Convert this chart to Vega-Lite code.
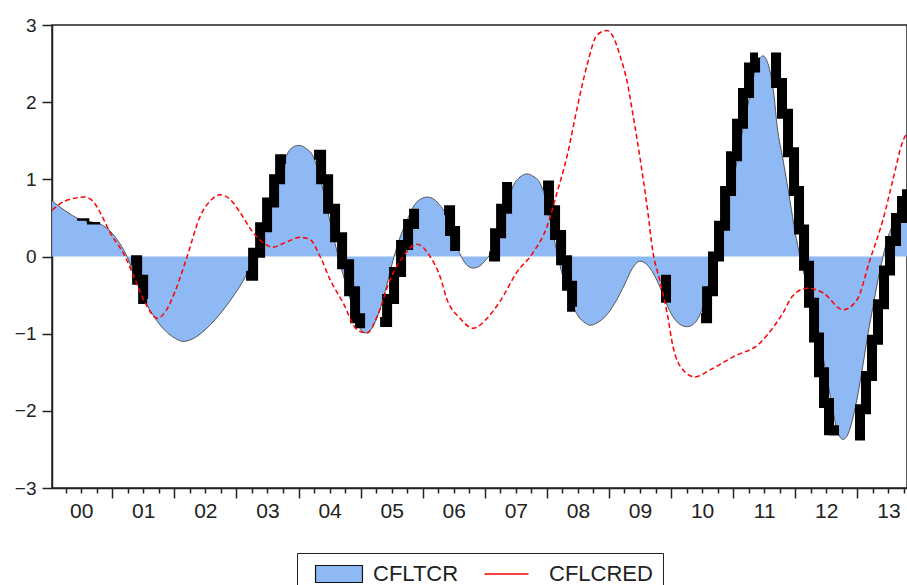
{
  "$schema": "https://vega.github.io/schema/vega-lite/v6.json",
  "width": 855,
  "height": 463,
  "autosize": {"type": "none"},
  "padding": {"left": 52, "top": 25, "right": 0, "bottom": 97},
  "background": "white",
  "config": {
    "font": "Liberation Sans",
    "view": {"stroke": "#222", "strokeWidth": 1.5}
  },
  "datasets": {
    "cfltcr": [
      {"t": 2000.032, "v": 0.72}, {"t": 2000.161, "v": 0.64}, {"t": 2000.322, "v": 0.55}, {"t": 2000.483, "v": 0.48},
      {"t": 2000.644, "v": 0.45}, {"t": 2000.805, "v": 0.42}, {"t": 2000.966, "v": 0.33}, {"t": 2001.095, "v": 0.2},
      {"t": 2001.208, "v": 0.05}, {"t": 2001.288, "v": -0.1}, {"t": 2001.401, "v": -0.35}, {"t": 2001.53, "v": -0.58},
      {"t": 2001.691, "v": -0.8}, {"t": 2001.852, "v": -0.96}, {"t": 2002.013, "v": -1.06}, {"t": 2002.142, "v": -1.1},
      {"t": 2002.335, "v": -1.05}, {"t": 2002.496, "v": -0.95}, {"t": 2002.657, "v": -0.82}, {"t": 2002.818, "v": -0.66},
      {"t": 2002.979, "v": -0.48}, {"t": 2003.14, "v": -0.27}, {"t": 2003.253, "v": -0.08}, {"t": 2003.349, "v": 0.12},
      {"t": 2003.462, "v": 0.42}, {"t": 2003.575, "v": 0.75}, {"t": 2003.688, "v": 1.05}, {"t": 2003.8, "v": 1.3},
      {"t": 2003.913, "v": 1.42}, {"t": 2004.01, "v": 1.44}, {"t": 2004.122, "v": 1.4}, {"t": 2004.235, "v": 1.3},
      {"t": 2004.348, "v": 1.02}, {"t": 2004.461, "v": 0.62}, {"t": 2004.573, "v": 0.22}, {"t": 2004.686, "v": -0.14},
      {"t": 2004.799, "v": -0.46}, {"t": 2004.911, "v": -0.76}, {"t": 2004.992, "v": -0.93}, {"t": 2005.072, "v": -0.99},
      {"t": 2005.153, "v": -0.96}, {"t": 2005.25, "v": -0.82}, {"t": 2005.346, "v": -0.6}, {"t": 2005.443, "v": -0.3},
      {"t": 2005.539, "v": 0.0}, {"t": 2005.636, "v": 0.25}, {"t": 2005.749, "v": 0.47}, {"t": 2005.861, "v": 0.66},
      {"t": 2005.958, "v": 0.74}, {"t": 2006.071, "v": 0.77}, {"t": 2006.184, "v": 0.74}, {"t": 2006.28, "v": 0.66},
      {"t": 2006.361, "v": 0.57}, {"t": 2006.441, "v": 0.42}, {"t": 2006.522, "v": 0.2}, {"t": 2006.602, "v": 0.03},
      {"t": 2006.699, "v": -0.1}, {"t": 2006.812, "v": -0.15}, {"t": 2006.924, "v": -0.12}, {"t": 2007.021, "v": -0.04},
      {"t": 2007.085, "v": 0.03}, {"t": 2007.166, "v": 0.22}, {"t": 2007.246, "v": 0.42}, {"t": 2007.327, "v": 0.62},
      {"t": 2007.407, "v": 0.82}, {"t": 2007.488, "v": 0.96}, {"t": 2007.568, "v": 1.03}, {"t": 2007.681, "v": 1.07},
      {"t": 2007.778, "v": 1.04}, {"t": 2007.89, "v": 0.95}, {"t": 2007.971, "v": 0.77}, {"t": 2008.052, "v": 0.48},
      {"t": 2008.132, "v": 0.17}, {"t": 2008.213, "v": -0.12}, {"t": 2008.309, "v": -0.4}, {"t": 2008.406, "v": -0.62},
      {"t": 2008.502, "v": -0.77}, {"t": 2008.615, "v": -0.86}, {"t": 2008.696, "v": -0.89}, {"t": 2008.808, "v": -0.86},
      {"t": 2008.937, "v": -0.78}, {"t": 2009.098, "v": -0.6}, {"t": 2009.259, "v": -0.35}, {"t": 2009.372, "v": -0.16},
      {"t": 2009.501, "v": -0.06}, {"t": 2009.63, "v": -0.12}, {"t": 2009.742, "v": -0.26}, {"t": 2009.855, "v": -0.46},
      {"t": 2009.952, "v": -0.66}, {"t": 2010.048, "v": -0.8}, {"t": 2010.145, "v": -0.88}, {"t": 2010.258, "v": -0.91},
      {"t": 2010.37, "v": -0.87}, {"t": 2010.467, "v": -0.75}, {"t": 2010.564, "v": -0.5}, {"t": 2010.66, "v": -0.15},
      {"t": 2010.757, "v": 0.2}, {"t": 2010.853, "v": 0.5}, {"t": 2010.95, "v": 0.82}, {"t": 2011.047, "v": 1.17},
      {"t": 2011.127, "v": 1.53}, {"t": 2011.24, "v": 1.97}, {"t": 2011.32, "v": 2.3}, {"t": 2011.385, "v": 2.5},
      {"t": 2011.481, "v": 2.6}, {"t": 2011.578, "v": 2.45}, {"t": 2011.659, "v": 2.08}, {"t": 2011.707, "v": 1.7},
      {"t": 2011.804, "v": 1.25}, {"t": 2011.916, "v": 0.72}, {"t": 2011.997, "v": 0.32}, {"t": 2012.077, "v": 0.0},
      {"t": 2012.174, "v": -0.33}, {"t": 2012.271, "v": -0.65}, {"t": 2012.367, "v": -0.98}, {"t": 2012.448, "v": -1.3},
      {"t": 2012.528, "v": -1.65}, {"t": 2012.609, "v": -2.0}, {"t": 2012.673, "v": -2.25}, {"t": 2012.77, "v": -2.37},
      {"t": 2012.866, "v": -2.27}, {"t": 2012.931, "v": -2.08}, {"t": 2013.011, "v": -1.78}, {"t": 2013.092, "v": -1.4},
      {"t": 2013.172, "v": -1.0}, {"t": 2013.253, "v": -0.65}, {"t": 2013.333, "v": -0.3}, {"t": 2013.414, "v": 0.0},
      {"t": 2013.494, "v": 0.25}, {"t": 2013.591, "v": 0.45}, {"t": 2013.688, "v": 0.6}, {"t": 2013.8, "v": 0.75}
    ],
    "cflcred": [
      {"t": 2000.032, "v": 0.6}, {"t": 2000.242, "v": 0.72}, {"t": 2000.564, "v": 0.77}, {"t": 2000.725, "v": 0.68},
      {"t": 2000.805, "v": 0.57}, {"t": 2000.966, "v": 0.31}, {"t": 2001.208, "v": 0.0}, {"t": 2001.369, "v": -0.3},
      {"t": 2001.53, "v": -0.6}, {"t": 2001.723, "v": -0.8}, {"t": 2001.852, "v": -0.72}, {"t": 2002.013, "v": -0.45},
      {"t": 2002.206, "v": 0.0}, {"t": 2002.416, "v": 0.52}, {"t": 2002.577, "v": 0.72}, {"t": 2002.738, "v": 0.8},
      {"t": 2002.899, "v": 0.74}, {"t": 2003.06, "v": 0.57}, {"t": 2003.269, "v": 0.31}, {"t": 2003.43, "v": 0.18},
      {"t": 2003.575, "v": 0.12}, {"t": 2003.784, "v": 0.18}, {"t": 2004.026, "v": 0.25}, {"t": 2004.187, "v": 0.22},
      {"t": 2004.348, "v": 0.0}, {"t": 2004.509, "v": -0.3}, {"t": 2004.718, "v": -0.6}, {"t": 2004.944, "v": -0.95},
      {"t": 2005.105, "v": -0.99}, {"t": 2005.266, "v": -0.78}, {"t": 2005.475, "v": -0.3}, {"t": 2005.684, "v": 0.0},
      {"t": 2005.91, "v": 0.16}, {"t": 2006.119, "v": 0.0}, {"t": 2006.28, "v": -0.26}, {"t": 2006.393, "v": -0.56},
      {"t": 2006.602, "v": -0.8}, {"t": 2006.812, "v": -0.93}, {"t": 2007.037, "v": -0.8}, {"t": 2007.246, "v": -0.58},
      {"t": 2007.52, "v": -0.2}, {"t": 2007.778, "v": 0.05}, {"t": 2008.003, "v": 0.39}, {"t": 2008.164, "v": 0.83},
      {"t": 2008.325, "v": 1.3}, {"t": 2008.486, "v": 1.92}, {"t": 2008.647, "v": 2.48}, {"t": 2008.808, "v": 2.87},
      {"t": 2008.969, "v": 2.93}, {"t": 2009.066, "v": 2.85}, {"t": 2009.179, "v": 2.6}, {"t": 2009.291, "v": 2.27},
      {"t": 2009.388, "v": 1.83}, {"t": 2009.501, "v": 1.27}, {"t": 2009.614, "v": 0.65}, {"t": 2009.71, "v": 0.05},
      {"t": 2009.823, "v": -0.32}, {"t": 2009.936, "v": -0.73}, {"t": 2010.032, "v": -1.17}, {"t": 2010.193, "v": -1.47},
      {"t": 2010.386, "v": -1.56}, {"t": 2010.628, "v": -1.47}, {"t": 2010.998, "v": -1.3}, {"t": 2011.433, "v": -1.12},
      {"t": 2011.643, "v": -0.92}, {"t": 2011.804, "v": -0.73}, {"t": 2011.949, "v": -0.52}, {"t": 2012.19, "v": -0.41},
      {"t": 2012.448, "v": -0.47}, {"t": 2012.77, "v": -0.69}, {"t": 2012.995, "v": -0.56}, {"t": 2013.205, "v": -0.04},
      {"t": 2013.414, "v": 0.48}, {"t": 2013.575, "v": 1.0}, {"t": 2013.736, "v": 1.5}, {"t": 2013.8, "v": 1.6}
    ],
    "stairs": [
      {"seg": "A", "t": 2000.435, "v": 0.48}, {"seg": "A", "t": 2000.612, "v": 0.43}, {"seg": "A", "t": 2000.805, "v": 0.43},
      {"seg": "B", "t": 2001.304, "v": -0.05}, {"seg": "B", "t": 2001.401, "v": -0.3}, {"seg": "B", "t": 2001.498, "v": -0.55}, {"seg": "B", "t": 2001.562, "v": -0.55},
      {"seg": "C", "t": 2003.156, "v": -0.25}, {"seg": "C", "t": 2003.269, "v": 0.05}, {"seg": "C", "t": 2003.382, "v": 0.38}, {"seg": "C", "t": 2003.494, "v": 0.7}, {"seg": "C", "t": 2003.607, "v": 1.0}, {"seg": "C", "t": 2003.704, "v": 1.26}, {"seg": "C", "t": 2003.8, "v": 1.26},
      {"seg": "D", "t": 2004.251, "v": 1.32}, {"seg": "D", "t": 2004.364, "v": 1.0}, {"seg": "D", "t": 2004.477, "v": 0.62}, {"seg": "D", "t": 2004.589, "v": 0.25}, {"seg": "D", "t": 2004.702, "v": -0.1}, {"seg": "D", "t": 2004.815, "v": -0.45}, {"seg": "D", "t": 2004.911, "v": -0.8}, {"seg": "D", "t": 2004.992, "v": -0.93},
      {"seg": "E", "t": 2005.314, "v": -0.85}, {"seg": "E", "t": 2005.427, "v": -0.55}, {"seg": "E", "t": 2005.539, "v": -0.2}, {"seg": "E", "t": 2005.652, "v": 0.15}, {"seg": "E", "t": 2005.765, "v": 0.42}, {"seg": "E", "t": 2005.861, "v": 0.62},
      {"seg": "F", "t": 2006.345, "v": 0.6}, {"seg": "F", "t": 2006.441, "v": 0.33}, {"seg": "F", "t": 2006.522, "v": 0.07},
      {"seg": "G", "t": 2007.069, "v": 0.0}, {"seg": "G", "t": 2007.166, "v": 0.3}, {"seg": "G", "t": 2007.263, "v": 0.62}, {"seg": "G", "t": 2007.359, "v": 0.9}, {"seg": "G", "t": 2007.44, "v": 0.9},
      {"seg": "H", "t": 2007.939, "v": 0.92}, {"seg": "H", "t": 2008.035, "v": 0.6}, {"seg": "H", "t": 2008.132, "v": 0.28}, {"seg": "H", "t": 2008.229, "v": -0.05}, {"seg": "H", "t": 2008.325, "v": -0.38}, {"seg": "H", "t": 2008.406, "v": -0.65}, {"seg": "H", "t": 2008.454, "v": -0.65},
      {"seg": "I", "t": 2009.839, "v": -0.3}, {"seg": "I", "t": 2009.919, "v": -0.6},
      {"seg": "J", "t": 2010.483, "v": -0.8}, {"seg": "J", "t": 2010.58, "v": -0.45}, {"seg": "J", "t": 2010.676, "v": 0.0}, {"seg": "J", "t": 2010.773, "v": 0.4}, {"seg": "J", "t": 2010.87, "v": 0.85}, {"seg": "J", "t": 2010.966, "v": 1.3}, {"seg": "J", "t": 2011.063, "v": 1.72}, {"seg": "J", "t": 2011.159, "v": 2.12}, {"seg": "J", "t": 2011.256, "v": 2.45}, {"seg": "J", "t": 2011.353, "v": 2.58}, {"seg": "J", "t": 2011.401, "v": 2.58},
      {"seg": "K", "t": 2011.61, "v": 2.58}, {"seg": "K", "t": 2011.691, "v": 2.25}, {"seg": "K", "t": 2011.787, "v": 1.85}, {"seg": "K", "t": 2011.884, "v": 1.35}, {"seg": "K", "t": 2011.981, "v": 0.85}, {"seg": "K", "t": 2012.061, "v": 0.35}, {"seg": "K", "t": 2012.142, "v": -0.12}, {"seg": "K", "t": 2012.222, "v": -0.6}, {"seg": "K", "t": 2012.303, "v": -1.05}, {"seg": "K", "t": 2012.383, "v": -1.5}, {"seg": "K", "t": 2012.464, "v": -1.9}, {"seg": "K", "t": 2012.544, "v": -2.25}, {"seg": "K", "t": 2012.625, "v": -2.32},
      {"seg": "L", "t": 2012.963, "v": -2.32}, {"seg": "L", "t": 2013.043, "v": -1.98}, {"seg": "L", "t": 2013.14, "v": -1.55}, {"seg": "L", "t": 2013.237, "v": -1.08}, {"seg": "L", "t": 2013.333, "v": -0.62}, {"seg": "L", "t": 2013.43, "v": -0.18}, {"seg": "L", "t": 2013.527, "v": 0.2}, {"seg": "L", "t": 2013.623, "v": 0.5}, {"seg": "L", "t": 2013.72, "v": 0.72}, {"seg": "L", "t": 2013.8, "v": 0.87}
    ]
  },
  "encoding": {
    "x": {
      "field": "t", "type": "quantitative",
      "scale": {"domain": [2000.03, 2013.8], "nice": false, "zero": false},
      "axis": {
        "title": null, "grid": false,
        "values": [2000.25, 2000.5, 2000.75, 2001, 2001.25, 2001.5, 2001.75, 2002, 2002.25, 2002.5, 2002.75, 2003, 2003.25, 2003.5, 2003.75, 2004, 2004.25, 2004.5, 2004.75, 2005, 2005.25, 2005.5, 2005.75, 2006, 2006.25, 2006.5, 2006.75, 2007, 2007.25, 2007.5, 2007.75, 2008, 2008.25, 2008.5, 2008.75, 2009, 2009.25, 2009.5, 2009.75, 2010, 2010.25, 2010.5, 2010.75, 2011, 2011.25, 2011.5, 2011.75, 2012, 2012.25, 2012.5, 2012.75, 2013, 2013.25, 2013.5, 2013.75],
        "labelExpr": "datum.value % 1 == 0.5 ? slice('0' + floor(datum.value - 2000), -2) : ''",
        "labelOverlap": false, "labelFlush": false, "labelBound": false,
        "labelFontSize": 21, "labelColor": "#222", "labelPadding": 7,
        "tickSize": {"condition": {"test": "datum.value % 1 === 0", "value": 10}, "value": 5},
        "tickColor": "#222", "tickWidth": 1.5,
        "domainColor": "#222", "domainWidth": 1.5
      }
    }
  },
  "layer": [
    {
      "data": {"name": "cfltcr"},
      "mark": {"type": "area", "interpolate": "monotone", "clip": true, "opacity": 1},
      "encoding": {
        "y": {
          "field": "v", "type": "quantitative",
          "scale": {"domain": [-3, 3], "nice": false},
          "axis": {
            "title": null, "grid": false, "values": [-3, -2, -1, 0, 1, 2, 3], "format": "d",
            "labelFontSize": 19, "labelColor": "#222", "labelPadding": 6,
            "tickSize": 10, "tickColor": "#222", "tickWidth": 1.5,
            "domainColor": "#222", "domainWidth": 1.5
          }
        },
        "color": {
          "datum": "CFLTCR",
          "scale": {"domain": ["CFLTCR", "CFLCRED"], "range": ["#8FB9F5", "#FF0000"]},
          "legend": {
            "orient": "none", "legendX": 245, "legendY": 528, "direction": "horizontal",
            "title": null, "strokeColor": "#222", "padding": 10,
            "symbolSize": 289, "symbolOffset": 21, "labelOffset": 23, "columnPadding": 22,
            "labelFontSize": 22, "labelColor": "#222",
            "symbolType": {"expr": "datum.value === 'CFLTCR' ? 'M-2.76,-1H2.76V1H-2.76Z' : 'M-3.59,0H1.59'"},
            "symbolStrokeColor": {"expr": "datum.value === 'CFLTCR' ? '#111' : '#FF0000'"},
            "symbolStrokeWidth": {"expr": "datum.value === 'CFLTCR' ? 1.2 : 1.5"},
            "symbolDash": [1, 0],
            "symbolOpacity": 1
          }
        }
      }
    },
    {
      "data": {"name": "cfltcr"},
      "mark": {"type": "line", "interpolate": "monotone", "color": "#555", "strokeWidth": 1, "clip": true},
      "encoding": {"y": {"field": "v", "type": "quantitative"}}
    },
    {
      "data": {"name": "stairs"},
      "transform": [{"filter": "datum.seg !== 'A'"}],
      "mark": {"type": "line", "interpolate": "step-after", "color": "#000", "strokeWidth": 10, "strokeJoin": "miter", "clip": true},
      "encoding": {"y": {"field": "v", "type": "quantitative"}, "detail": {"field": "seg"}}
    },
    {
      "data": {"name": "stairs"},
      "transform": [{"filter": "datum.seg === 'A'"}],
      "mark": {"type": "line", "interpolate": "step-after", "color": "#000", "strokeWidth": 2.5, "clip": true},
      "encoding": {"y": {"field": "v", "type": "quantitative"}, "detail": {"field": "seg"}}
    },
    {
      "data": {"name": "cflcred"},
      "mark": {"type": "line", "interpolate": "monotone", "strokeWidth": 1.5, "strokeDash": [5, 3], "color": "#FF0000", "clip": true},
      "encoding": {"y": {"field": "v", "type": "quantitative"}}
    }
  ]
}
